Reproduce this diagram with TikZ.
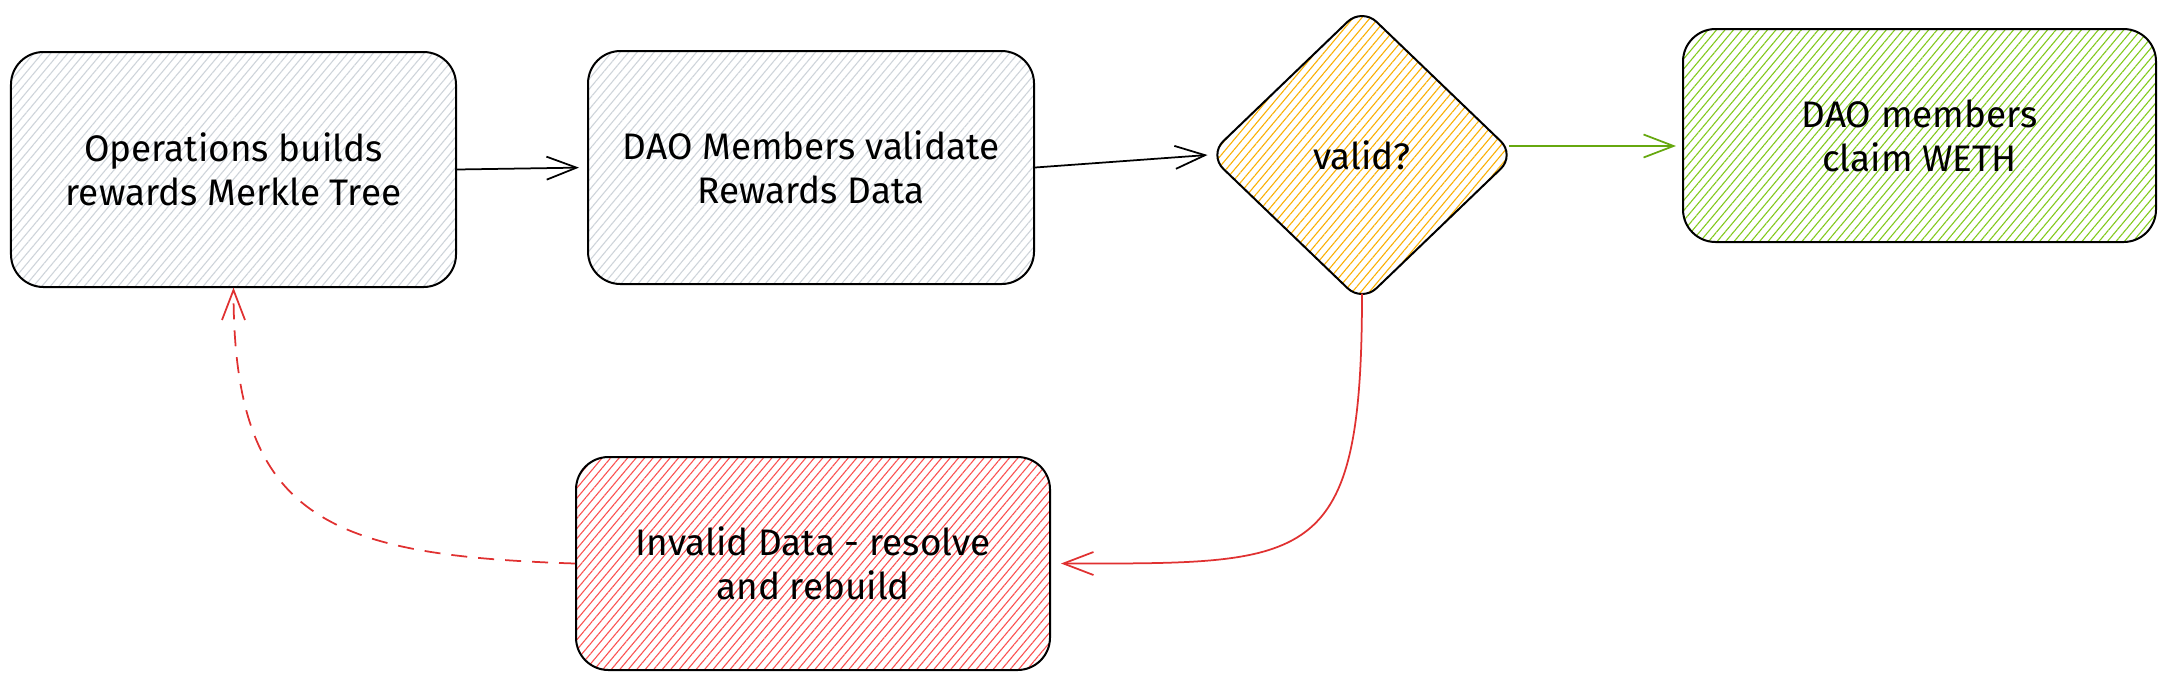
\documentclass[tikz,border=0pt]{standalone}
\usepackage{fontspec}
\setmainfont{Fira Sans}
\usepackage{xcolor}
\usetikzlibrary{shapes.geometric,arrows.meta,patterns.meta}

\definecolor{hatchgray}{HTML}{CED4DA}
\definecolor{hatchorange}{HTML}{FAB005}
\definecolor{hatchgreen}{HTML}{82C91E}
\definecolor{hatchred}{HTML}{FA5252}
\definecolor{okgreen}{HTML}{66A80F}
\definecolor{badred}{HTML}{E03131}

\begin{document}
\begin{tikzpicture}[x=0.2mm,y=-0.2mm,
  stepbox/.style={draw,line width=0.4mm,rounded corners=6.5mm,align=center,inner sep=0pt,
    font=\fontsize{21}{25}\selectfont},
  hatch/.style={pattern={Lines[angle=50,distance=1.3mm,line width=0.22mm]},pattern color=#1},
  link/.style={line width=0.35mm,-{Straight Barb[length=6mm,width=4.6mm,line width=0.35mm]}}]
  \useasboundingbox (0,0) rectangle (2165,680);
  % steps
  \node[stepbox,hatch=hatchgray,minimum width=89mm,minimum height=47mm] (ops) at (233.5,169.5)
    {Operations builds\\rewards Merkle Tree};
  \node[stepbox,hatch=hatchgray,minimum width=89.2mm,minimum height=46.6mm] (validate) at (811,167.5)
    {DAO Members validate\\Rewards Data};
  \node[stepbox,diamond,rounded corners=4mm,hatch=hatchorange,minimum width=61.4mm,minimum height=59mm] (valid) at (1362,155)
    {valid?};
  \node[stepbox,hatch=hatchgreen,minimum width=94.6mm,minimum height=42.6mm] (claim) at (1919.5,135.5)
    {DAO members\\claim WETH};
  \node[stepbox,hatch=hatchred,minimum width=94.8mm,minimum height=42.6mm] (invalid) at (813,563.5)
    {Invalid Data - resolve\\and rebuild};
  % arrows
  \draw[link,shorten >=1.6mm] (ops.east) -- (validate.west);
  \draw[link] (validate.east) -- (valid.west);
  \draw[link,okgreen,shorten <=-1.5mm,shorten >=1.2mm] ([yshift=1.8mm]valid.east) -- ([yshift=-2.1mm]claim.west);
  \draw[link,badred,shorten <=-2mm] (valid.south) .. controls +(0,265) and +(250,0) .. ([xshift=2mm]invalid.east);
  \draw[link,badred,dash pattern=on 3.2mm off 2.2mm] (invalid.west) .. controls +(-250,-8) and +(0,230) .. (ops.south);
\end{tikzpicture}
\end{document}
